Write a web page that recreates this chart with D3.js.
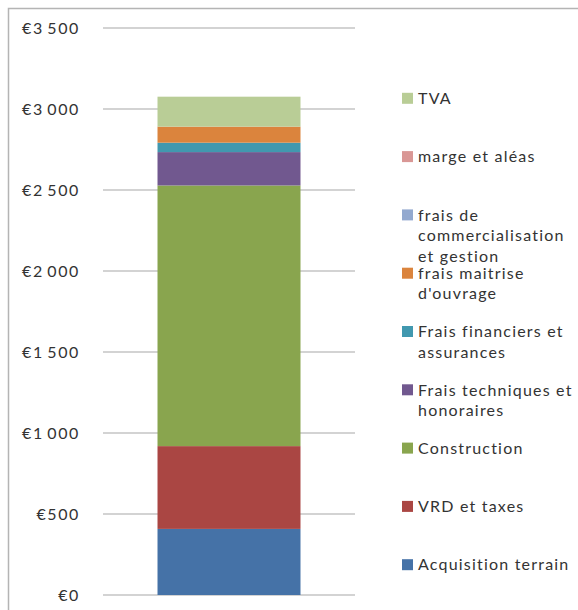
<!DOCTYPE html>
<html>
<head>
<meta charset="utf-8">
<script src="https://cdn.jsdelivr.net/npm/d3@7"></script>
<style>
  body { margin: 0; background: #fff; }
  svg { display: block; font-family: Lato, "Open Sans", sans-serif; }
</style>
</head>
<body>
<div id="chart"></div>
<script>
// stack order, bottom to top
const series = [
  "Acquisition terrain",
  "VRD et taxes",
  "Construction",
  "Frais techniques et honoraires",
  "Frais financiers et assurances",
  "frais maitrise d'ouvrage",
  "frais de commercialisation et gestion",
  "marge et aléas",
  "TVA"
];
const values = [408, 511, 1609, 206, 58, 99, 0, 0, 185];
const colors = ["#4572a7", "#aa4643", "#89a54e", "#71588f", "#4198af", "#db843d", "#93a9cf", "#d99795", "#b9cd96"];
// how the legend wraps each name
const legendLines = [
  ["Acquisition terrain"],
  ["VRD et taxes"],
  ["Construction"],
  ["Frais techniques et", "honoraires"],
  ["Frais financiers et", "assurances"],
  ["frais maitrise", "d'ouvrage"],
  ["frais de", "commercialisation", "et gestion"],
  ["marge et aléas"],
  ["TVA"]
];
const categories = ["Coût"];
const yTicks = [0, 500, 1000, 1500, 2000, 2500, 3000, 3500];

const width = 578, height = 610;
const plot = {left: 103, right: 355, top: 28, bottom: 595};

const svg = d3.select("#chart").append("svg")
  .attr("width", width)
  .attr("height", height);

// outer frame, runs off the right and bottom of the picture
svg.append("rect")
  .attr("x", 8.5).attr("y", 8.5)
  .attr("width", 600).attr("height", 620)
  .attr("fill", "none")
  .attr("stroke", "#b4b4b4")
  .attr("stroke-width", 1.5);

const y = d3.scaleLinear().domain([0, 3500]).range([plot.bottom, plot.top]);
const x = d3.scaleBand().domain(categories).range([plot.left, plot.right]).padding(0.276);

const locale = d3.formatLocale({decimal: ",", thousands: "\u2009", grouping: [3], currency: ["€", ""]});
const fmt = locale.format("$,");

// gridlines
svg.append("g").selectAll("line")
  .data(yTicks)
  .join("line")
  .attr("x1", plot.left).attr("x2", plot.right)
  .attr("y1", d => y(d)).attr("y2", d => y(d))
  .attr("stroke", "#c4c4c4")
  .attr("stroke-width", 1.5);

svg.append("g").selectAll("text")
  .data(yTicks)
  .join("text")
  .attr("x", 80)
  .attr("y", d => y(d))
  .attr("dy", "0.36em")
  .attr("text-anchor", "end")
  .attr("font-size", 16)
  .attr("letter-spacing", 1.6)
  .attr("fill", "#333")
  .text(d => fmt(d));

// stacked bar
const row = {cat: categories[0]};
series.forEach((s, i) => row[s] = values[i]);
const stacked = d3.stack().keys(series)([row]);

svg.append("g").selectAll("rect")
  .data(stacked)
  .join("rect")
  .attr("x", x(categories[0]))
  .attr("width", x.bandwidth())
  .attr("y", d => y(d[0][1]))
  .attr("height", d => y(d[0][0]) - y(d[0][1]))
  .attr("fill", (d, i) => colors[i]);

// legend, top entry is the last series
const legend = svg.append("g");
const legendTop = 98.3, legendStep = 58.3, lineH = 20.5;
series.slice().reverse().forEach((s, k) => {
  const i = series.length - 1 - k;
  const cy = legendTop + k * legendStep;
  legend.append("rect")
    .attr("x", 402).attr("y", cy - 5.5)
    .attr("width", 11).attr("height", 11)
    .attr("fill", colors[i]);
  legend.append("text")
    .attr("x", 418)
    .attr("font-size", 16)
    .attr("letter-spacing", 1.2)
    .attr("fill", "#333")
    .selectAll("tspan")
    .data(legendLines[i])
    .join("tspan")
    .attr("x", 418)
    .attr("y", (d, j) => cy + j * lineH)
    .attr("dy", "0.36em")
    .text(d => d);
});
</script>
</body>
</html>
